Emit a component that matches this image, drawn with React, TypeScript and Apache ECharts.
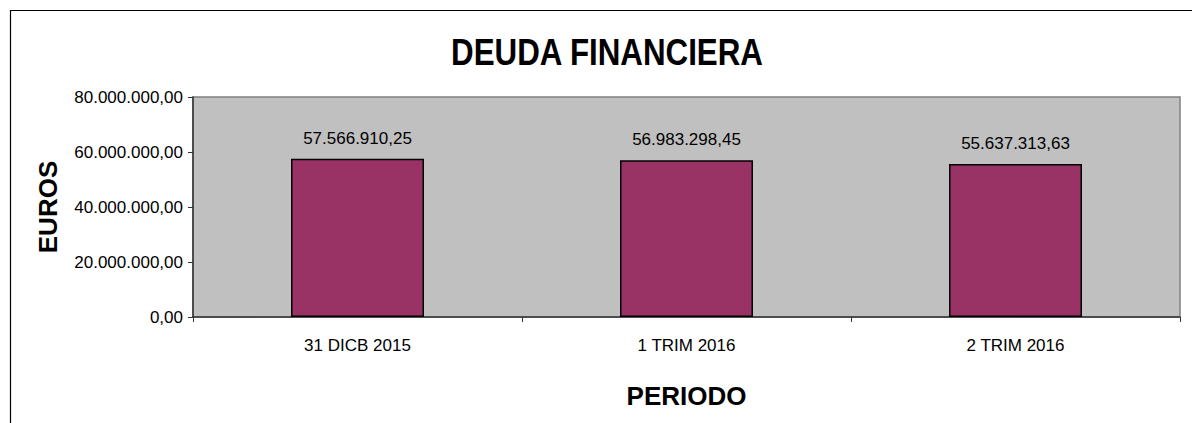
import React, { useEffect, useRef } from "react";
import * as echarts from "echarts";

const categories = ["31 DICB 2015", "1 TRIM 2016", "2 TRIM 2016"];
const deuda = [57566910.25, 56983298.45, 55637313.63];
const yTicks = { min: 0, max: 80000000, interval: 20000000 };
const titleText = "DEUDA FINANCIERA";
const yName = "EUROS";
const xName = "PERIODO";

const FONT = '"Liberation Sans", Arial, Helvetica, sans-serif';

function fmtES(v: number): string {
  const fixed = v.toFixed(2);
  const [ip, dp] = fixed.split(".");
  const withDots = ip.replace(/\B(?=(\d{3})+(?!\d))/g, ".");
  return withDots + "," + dp;
}

export default function App() {
  const ref = useRef<HTMLDivElement>(null);
  useEffect(() => {
    if (!ref.current) return;
    const chart = echarts.init(ref.current, undefined, { renderer: "svg" });
    chart.setOption({
      animation: false,
      backgroundColor: "#ffffff",
      textStyle: { fontFamily: FONT },
      graphic: [
        {
          type: "rect",
          silent: true,
          shape: { x: 10.5, y: 10.5, width: 1200, height: 500 },
          style: { fill: "none", stroke: "#000000", lineWidth: 1.2 },
          z: 0,
        },
        {
          type: "text",
          x: 607,
          y: 52,
          scaleX: 0.87,
          style: {
            text: titleText,
            font: `bold 36px ${FONT}`,
            fill: "#000000",
            textAlign: "center",
            textVerticalAlign: "middle",
          },
        },
      ],
      grid: {
        left: 193,
        top: 97,
        right: 12,
        bottom: 106,
        show: true,
        backgroundColor: "#C0C0C0",
        borderColor: "#808080",
        borderWidth: 1.5,
      },
      xAxis: {
        type: "category",
        data: categories,
        name: xName,
        nameLocation: "middle",
        nameGap: 66,
        nameTextStyle: { fontSize: 26, fontWeight: "bold", color: "#000", fontFamily: FONT },
        axisLine: { show: true, lineStyle: { color: "#333333", width: 1.5 } },
        axisTick: { show: true, length: 5, alignWithLabel: false, lineStyle: { color: "#333333" } },
        axisLabel: { fontSize: 17, color: "#000", margin: 20, fontFamily: FONT },
        splitLine: { show: false },
      },
      yAxis: {
        type: "value",
        min: yTicks.min,
        max: yTicks.max,
        interval: yTicks.interval,
        name: yName,
        nameLocation: "middle",
        nameGap: 132,
        nameTextStyle: { fontSize: 26, fontWeight: "bold", color: "#000", fontFamily: FONT },
        axisLine: { show: true, lineStyle: { color: "#333333", width: 1.5 } },
        axisTick: { show: true, length: 5, lineStyle: { color: "#333333" } },
        axisLabel: {
          fontSize: 17,
          color: "#000",
          margin: 10,
          fontFamily: FONT,
          formatter: (v: number) => fmtES(v),
        },
        splitLine: { show: false },
      },
      series: [
        {
          type: "bar",
          data: deuda,
          barWidth: 133,
          itemStyle: { color: "#993366", borderColor: "#000000", borderWidth: 1.5 },
          label: {
            show: true,
            position: "top",
            distance: 12,
            fontSize: 17,
            color: "#000",
            fontFamily: FONT,
            formatter: (p: any) => fmtES(p.value),
          },
        },
      ],
    });
    return () => chart.dispose();
  }, []);
  return (
    <div
      ref={ref}
      style={{ position: "fixed", left: 0, top: 0, width: 1192, height: 423 }}
    />
  );
}
